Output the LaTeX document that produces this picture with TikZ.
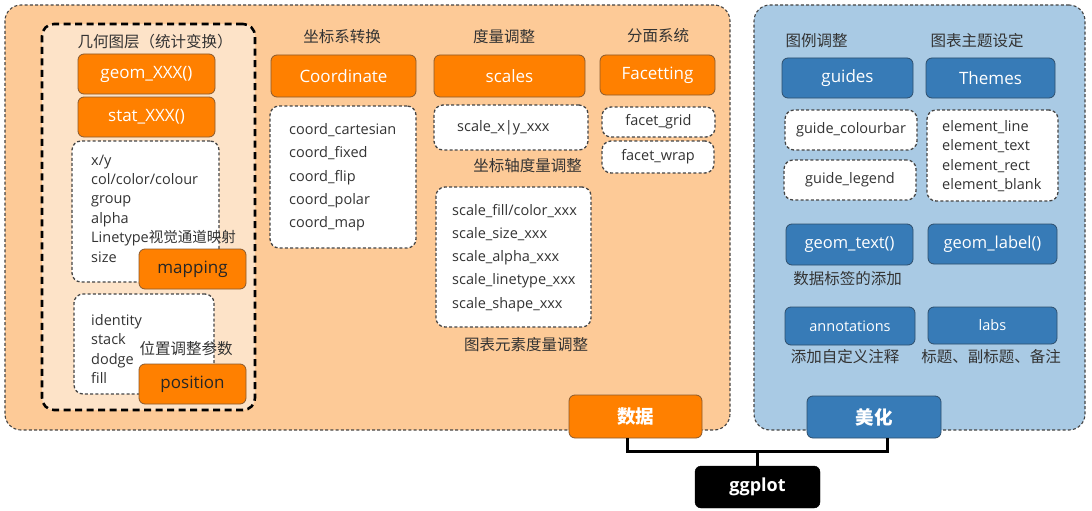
\documentclass[tikz,border=0pt]{standalone}
\usepackage{fontspec}
\setmainfont{Open Sans}
\newfontfamily\cjk{Noto Sans CJK SC}
\definecolor{peach}{HTML}{FDCA97}
\definecolor{peachlight}{HTML}{FDE3C8}
\definecolor{orng}{HTML}{FF8000}
\definecolor{orngdark}{HTML}{8A5A2E}
\definecolor{skyb}{HTML}{A9CAE4}
\definecolor{blu}{HTML}{377BB7}
\definecolor{bludark}{HTML}{2D4E6C}
\definecolor{txt}{HTML}{333333}
\definecolor{dashc}{HTML}{444444}
\tikzset{
  area/.style={draw=dashc, line width=1.1pt, dash pattern=on 3pt off 2.2pt, rounded corners=16pt, inner sep=0pt},
  layer/.style={draw=black, line width=2.6pt, dash pattern=on 7pt off 4.5pt, rounded corners=12pt, fill=peachlight, inner sep=0pt},
  obox/.style={draw=orngdark, line width=0.8pt, fill=orng, rounded corners=6pt, text=white, inner sep=0pt, font=\fontsize{17}{20}\selectfont},
  bbox/.style={draw=bludark, line width=0.8pt, fill=blu, rounded corners=6pt, text=white, inner sep=0pt, font=\fontsize{17}{20}\selectfont},
  wbox/.style={draw=dashc, line width=1.3pt, dash pattern=on 3pt off 2.2pt, fill=white, rounded corners=9pt, inner sep=0pt},
  lst/.style={text=txt, align=left, inner sep=0pt, anchor=west, font=\fontsize{14.5}{19.4}\selectfont},
  lbl/.style={text=txt, inner sep=0pt, font=\cjk\fontsize{15.5}{18}\selectfont},
  conn/.style={line width=3pt, draw=black}
}
\begin{document}
\begin{tikzpicture}[x=1pt,y=-1pt]
\useasboundingbox (0,0) rectangle (1092,511);
% areas
\node[area, fill=peach, minimum width=725pt, minimum height=425pt] (dataarea) at (367.5,217.5) {};
\node[area, fill=skyb, minimum width=331pt, minimum height=425pt] (aesarea) at (919.5,217.5) {};
\node[layer, minimum width=213pt, minimum height=386pt] (layerbox) at (148.5,217) {};
% geometric layer
\node[lbl] (layerlbl) at (155,42) {几何图层（统计变换）};
\node[obox, minimum width=137pt, minimum height=40pt] (geom) at (146.5,74) {geom\_XXX()};
\node[obox, minimum width=137pt, minimum height=40pt] (stat) at (146.5,117) {stat\_XXX()};
\node[wbox, minimum width=147pt, minimum height=141pt] (maplist) at (145.5,211.5) {};
\node[lst] (maptext) at (91,208.5) {x/y\\col/color/colour\\group\\alpha\\Linetype{\cjk 视觉通道映射}\\size};
\node[obox, text=black!85, minimum width=107pt, minimum height=40pt] (mapping) at (192.5,269) {mapping};
\node[wbox, minimum width=140pt, minimum height=100pt] (poslist) at (144,344) {};
\node[lst] (postext) at (91,349) {identity\\stack\\dodge\\fill};
\node[lbl] (poslbl) at (186,349) {位置调整参数};
\node[obox, text=black!85, minimum width=107pt, minimum height=40pt] (position) at (192.5,384) {position};
% coordinate
\node[lbl] (coordlbl) at (342,37) {坐标系转换};
\node[obox, minimum width=145pt, minimum height=42pt] (coord) at (343.5,76) {Coordinate};
\node[wbox, minimum width=146pt, minimum height=142pt] (coordlist) at (343,177) {};
\node[lst, font=\fontsize{14.5}{23.3}\selectfont] (coordtext) at (289,177.5) {coord\_cartesian\\coord\_fixed\\coord\_flip\\coord\_polar\\coord\_map};
% scales
\node[lbl] (scalelbl) at (504,37) {度量调整};
\node[obox, minimum width=151pt, minimum height=42pt] (scales) at (509.5,76) {scales};
\node[wbox, minimum width=154pt, minimum height=45pt] (sxybox) at (511,127.5) {};
\node[lst] (sxytext) at (457,128) {scale\_x|y\_xxx};
\node[lbl] (axislbl) at (527.5,166) {坐标轴度量调整};
\node[wbox, minimum width=155pt, minimum height=140pt] (scalelist) at (513.5,257) {};
\node[lst, font=\fontsize{14.5}{23.1}\selectfont] (scaletext) at (452,258) {scale\_fill/color\_xxx\\scale\_size\_xxx\\scale\_alpha\_xxx\\scale\_linetype\_xxx\\scale\_shape\_xxx};
\node[lbl] (elemlbl) at (526,345) {图表元素度量调整};
% facetting
\node[lbl] (facetlbl) at (658,36) {分面系统};
\node[obox, minimum width=115pt, minimum height=40pt] (facet) at (657.5,75) {Facetting};
\node[wbox, minimum width=113pt, minimum height=30pt, font=\fontsize{14.5}{17}\selectfont, text=txt] (fgrid) at (658.5,122) {facet\_grid};
\node[wbox, minimum width=112pt, minimum height=32pt, font=\fontsize{14.5}{17}\selectfont, text=txt] (fwrap) at (658,157) {facet\_wrap};
\node[obox, minimum width=133pt, minimum height=43pt, font=\cjk\bfseries\fontsize{18.5}{20}\selectfont] (shuju) at (635.5,416.5) {数据};
% aesthetics side
\node[lbl] (guidelbl) at (816.5,41) {图例调整};
\node[lbl] (themelbl) at (977,41) {图表主题设定};
\node[bbox, minimum width=131pt, minimum height=40pt] (guides) at (847.5,78) {guides};
\node[bbox, minimum width=129pt, minimum height=40pt] (themes) at (990.5,78) {Themes};
\node[wbox, minimum width=132pt, minimum height=40pt, font=\fontsize{14.5}{17}\selectfont, text=txt] (gcol) at (851,130) {guide\_colourbar};
\node[wbox, minimum width=132pt, minimum height=40pt, font=\fontsize{14.5}{17}\selectfont, text=txt] (gleg) at (850,180) {guide\_legend};
\node[wbox, minimum width=131pt, minimum height=91pt] (elembox) at (992.5,155.5) {};
\node[lst, font=\fontsize{14.5}{19.3}\selectfont] (elemtext) at (942,156) {element\_line\\element\_text\\element\_rect\\element\_blank};
\node[bbox, minimum width=127pt, minimum height=41pt, font=\fontsize{16.5}{20}\selectfont] (gtext) at (849.5,244.5) {geom\_text()};
\node[bbox, minimum width=129pt, minimum height=40pt, font=\fontsize{16.5}{20}\selectfont] (glabel) at (992.5,244) {geom\_label()};
\node[lbl] (gtextlbl) at (847.5,279) {数据标签的添加};
\node[bbox, minimum width=130pt, minimum height=38pt, font=\fontsize{14.5}{17}\selectfont] (annot) at (850,326) {annotations};
\node[bbox, minimum width=129pt, minimum height=37pt, font=\fontsize{14.5}{17}\selectfont] (labs) at (992.5,325.5) {labs};
\node[lbl] (annotlbl) at (845,357) {添加自定义注释};
\node[lbl] (labslbl) at (991,357) {标题、副标题、备注};
\node[bbox, minimum width=134pt, minimum height=42pt, font=\cjk\bfseries\fontsize{18.5}{20}\selectfont] (meihua) at (874,417) {美化};
% ggplot
\node[draw=black, fill=black, rounded corners=6pt, text=white, inner sep=0pt, minimum width=125pt, minimum height=42pt, font=\bfseries\fontsize{18}{20}\selectfont] (ggplot) at (757.5,487) {ggplot};
% connectors
\coordinate (jL) at (627,451);
\coordinate (jR) at (887,451);
\coordinate (jM) at (757.5,451);
\draw[conn] (jL |- shuju.south) -- (jL) -- (jR) -- (jR |- meihua.south);
\draw[conn] (jM) -- (ggplot.north);
\end{tikzpicture}
\end{document}
